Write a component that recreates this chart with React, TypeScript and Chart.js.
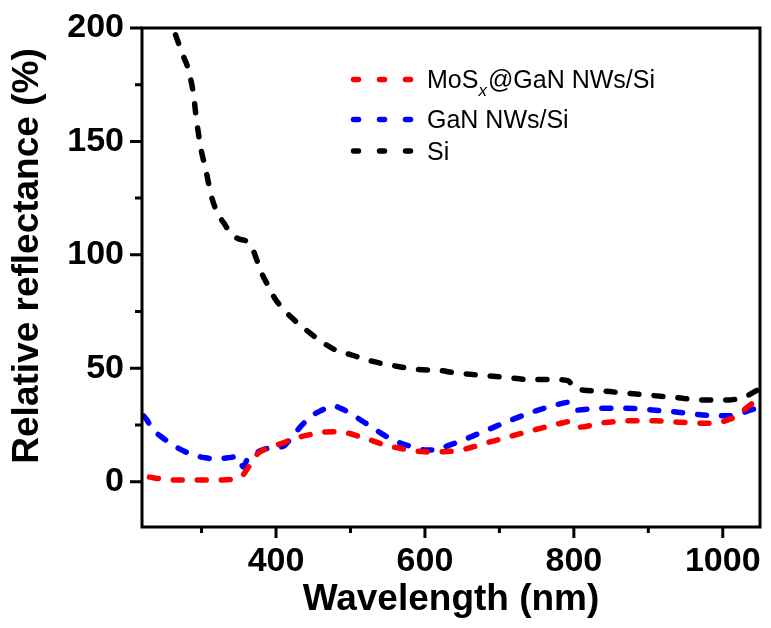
import React, { useEffect, useRef } from 'react';
import { Chart, registerables } from 'chart.js';

Chart.register(...registerables);

// ---- data ----
const siX = [265, 275, 282, 289, 293, 299, 306, 313, 322, 330, 340, 350, 360, 368, 375, 382, 390, 398, 410, 422, 440, 460, 480, 500, 530, 560, 590, 620, 640, 673, 707, 742, 775, 792, 802, 836, 869, 905, 938, 973, 1007, 1030, 1050];
const siY = [197, 188, 182, 171, 160, 147, 137, 126, 118, 114, 109, 107, 106, 103, 97, 91, 86, 81, 76, 72, 67, 62, 58, 56, 53, 51, 49.5, 49, 48, 47, 46, 45, 45, 44.5, 41, 40, 39, 38, 37, 36, 36, 37.5, 41];

const ganX = [222, 227, 233, 245, 258, 273, 289, 305, 320, 335, 349, 356, 362, 372, 382, 395, 409, 422, 435, 448, 462, 475, 489, 505, 524, 538, 553, 567, 582, 600, 615, 632, 649, 667, 684, 713, 747, 778, 794, 802, 835, 871, 905, 940, 973, 1008, 1038, 1050];
const ganY = [29, 27, 23.5, 20, 17, 14, 11.8, 10.5, 10, 10.5, 11, 6.5, 10.3, 12.5, 14, 15, 15.5, 20, 25, 29, 31.6, 33.5, 32, 29, 25, 22, 19, 17, 15.5, 14, 14, 16, 18, 20.5, 22.8, 26.8, 31, 34, 35, 31.5, 32.4, 32.4, 31.6, 30.6, 29.4, 29, 31.6, 33];

const mosX = [230, 250, 276, 311, 340, 350, 356, 362, 367, 372, 378, 395, 409, 425, 444, 462, 480, 495, 511, 530, 547, 562, 578, 595, 613, 630, 649, 682, 715, 749, 782, 795, 806, 840, 875, 909, 944, 978, 1011, 1040, 1050];
const mosY = [2, 1, 0.7, 0.7, 1, 1.5, 3, 6, 8, 11, 13, 15.5, 17, 19, 20.6, 21.8, 22, 21.5, 20, 18, 16, 15, 14, 13.3, 13, 13.3, 14, 17, 20, 23, 25.7, 26.5, 24, 26, 26.8, 26.8, 26.2, 25.7, 27.7, 34.6, 37];

const xMajor = [400, 600, 800, 1000];
const xMinor = [300, 500, 700, 900];
const yMajor = [0, 50, 100, 150, 200];
const yMinor = [25, 75, 125, 175];

const seriesNames = ['MoS', 'GaN NWs/Si', 'Si'];
const seriesColors = ['#ff0000', '#0000ff', '#000000'];

const FONT = '"Liberation Sans", Arial, Helvetica, sans-serif';

const toPts = (xs: number[], ys: number[]) => xs.map((x, i) => ({ x, y: ys[i] }));

const framePlugin = {
  id: 'frameTicks',
  afterDatasetsDraw(chart: any) {
    const { ctx, chartArea: a, scales } = chart;
    const xs = scales.x;
    const ys = scales.y;
    ctx.save();
    ctx.strokeStyle = '#000';
    ctx.lineWidth = 3;
    ctx.lineCap = 'butt';
    ctx.strokeRect(a.left, a.top, a.right - a.left, a.bottom - a.top);
    ctx.beginPath();
    xMajor.forEach((v) => {
      const p = xs.getPixelForValue(v);
      ctx.moveTo(p, a.bottom);
      ctx.lineTo(p, a.bottom + 11);
    });
    xMinor.forEach((v) => {
      const p = xs.getPixelForValue(v);
      ctx.moveTo(p, a.bottom);
      ctx.lineTo(p, a.bottom + 6);
    });
    yMajor.forEach((v) => {
      const p = ys.getPixelForValue(v);
      ctx.moveTo(a.left, p);
      ctx.lineTo(a.left - 12, p);
    });
    yMinor.forEach((v) => {
      const p = ys.getPixelForValue(v);
      ctx.moveTo(a.left, p);
      ctx.lineTo(a.left - 7, p);
    });
    ctx.stroke();

    // y axis title
    ctx.fillStyle = '#000';
    ctx.font = `bold 37px ${FONT}`;
    ctx.textAlign = 'center';
    ctx.textBaseline = 'alphabetic';
    ctx.translate(38, 256);
    ctx.rotate(-Math.PI / 2);
    ctx.fillText('Relative reflectance (%)', 0, 0);
    ctx.restore();
  },
  afterDraw(chart: any) {
    const { ctx } = chart;
    const rows = [
      { lineY: 79.5, base: 87.5 },
      { lineY: 119.5, base: 127.5 },
      { lineY: 151, base: 159.5 },
    ];
    ctx.save();
    rows.forEach((r, i) => {
      ctx.strokeStyle = seriesColors[i];
      ctx.lineWidth = 5.5;
      ctx.lineCap = 'round';
      ctx.setLineDash([5, 21]);
      ctx.beginPath();
      ctx.moveTo(353.5, r.lineY);
      ctx.lineTo(414, r.lineY);
      ctx.stroke();
      ctx.setLineDash([]);
      ctx.fillStyle = '#000';
      ctx.textAlign = 'left';
      ctx.textBaseline = 'alphabetic';
      ctx.font = `25px ${FONT}`;
      let x = 427;
      if (i === 0) {
        ctx.fillText('MoS', x, r.base);
        x += ctx.measureText('MoS').width;
        ctx.font = `italic 17px ${FONT}`;
        ctx.fillText('x', x, r.base + 8);
        x += ctx.measureText('x').width + 1;
        ctx.font = `25px ${FONT}`;
        ctx.fillText('@GaN NWs/Si', x, r.base);
      } else {
        ctx.fillText(seriesNames[i], x, r.base);
      }
    });
    ctx.restore();
  },
};

const clearPad = (s: any) => {
  s.paddingTop = 0;
  s.paddingBottom = 0;
  s.paddingLeft = 0;
  s.paddingRight = 0;
};

export default function App() {
  const ref = useRef<HTMLCanvasElement | null>(null);
  useEffect(() => {
    if (!ref.current) return;
    const common = {
      borderWidth: 5.5,
      borderDash: [9, 15],
      borderCapStyle: 'round' as const,
      pointRadius: 0,
      fill: false,
      cubicInterpolationMode: 'monotone' as const,
    };
    const chart = new Chart(ref.current, {
      type: 'line',
      data: {
        datasets: [
          { ...common, label: 'MoSx@GaN NWs/Si', data: toPts(mosX, mosY), borderColor: seriesColors[0] },
          { ...common, label: 'GaN NWs/Si', data: toPts(ganX, ganY), borderColor: seriesColors[1] },
          { ...common, label: 'Si', data: toPts(siX, siY), borderColor: seriesColors[2] },
        ],
      },
      options: {
        animation: false,
        responsive: false,
        layout: { padding: { top: 28, right: 11, left: 0, bottom: 0 } },
        plugins: { legend: { display: false }, tooltip: { enabled: false } },
        scales: {
          x: {
            type: 'linear',
            min: 220,
            max: 1050,
            grid: { display: false, drawTicks: false },
            border: { display: false },
            afterBuildTicks: (s: any) => {
              s.ticks = xMajor.map((v) => ({ value: v }));
            },
            afterFit: (s: any) => {
              s.height = 101;
              clearPad(s);
            },
            ticks: {
              color: '#000',
              padding: 14,
              maxRotation: 0,
              autoSkip: false,
              callback: (v: any) => String(v),
              font: { family: FONT, size: 34, weight: 'bold' },
            },
            title: {
              display: true,
              text: 'Wavelength (nm)',
              color: '#000',
              padding: { top: 0, bottom: 6 },
              font: { family: FONT, size: 37, weight: 'bold' },
            },
          },
          y: {
            type: 'linear',
            min: -20,
            max: 200,
            grid: { display: false, drawTicks: false },
            border: { display: false },
            afterBuildTicks: (s: any) => {
              s.ticks = yMajor.map((v) => ({ value: v }));
            },
            afterFit: (s: any) => {
              s.width = 142;
              clearPad(s);
            },
            ticks: {
              color: '#000',
              padding: 18,
              autoSkip: false,
              callback: (v: any) => String(v),
              font: { family: FONT, size: 34, weight: 'bold' },
            },
          },
        },
      },
      plugins: [framePlugin],
    });
    return () => chart.destroy();
  }, []);
  return (
    <div style={{ position: 'fixed', left: 0, top: 0, width: 771, height: 628, background: '#fff' }}>
      <canvas ref={ref} width={771} height={628} style={{ display: 'block' }} />
    </div>
  );
}
